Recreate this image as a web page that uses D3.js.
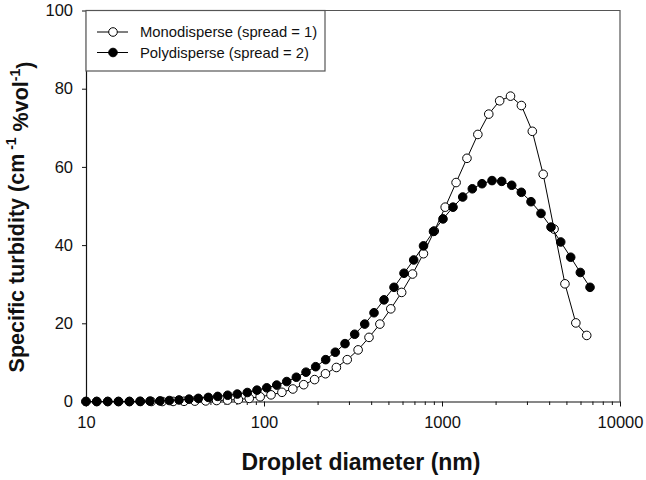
<!DOCTYPE html>
<html>
<head>
<meta charset="utf-8">
<script src="https://cdn.jsdelivr.net/npm/d3@7"></script>
<style>
  html, body { margin: 0; padding: 0; background: #fff; }
  svg { display: block; font-family: "Liberation Sans", Arial, sans-serif; }
</style>
</head>
<body>
<svg id="chart" width="646" height="480"></svg>
<script>
// ---- data ----
const polyDiameter = [10, 11.48, 13.24, 15.19, 17.51, 20.11, 22.88, 26.04, 29.38, 33.31,
  37.91, 42.75, 48.66, 54.95, 62.54, 70.8, 80.6, 91.3, 103.6, 117.9,
  134.2, 151.9, 172.2, 195.2, 222.2, 251.5, 285.2, 323.2, 367.9, 415.0,
  472.3, 537.5, 611.7, 693.4, 787.3, 896.0, 1013, 1153, 1307, 1480,
  1678, 1910, 2165, 2464, 2790, 3162, 3599, 4096, 4645, 5285,
  5984, 6785];
const polyTurbidity = [0, 0, 0, 0, 0, 0.05, 0.1, 0.15, 0.25, 0.4,
  0.6, 0.8, 1.05, 1.3, 1.6, 1.9, 2.3, 2.9, 3.5, 4.2,
  5.1, 6.2, 7.5, 8.9, 10.7, 12.6, 14.8, 17.2, 19.8, 22.7,
  26.0, 29.2, 32.8, 36.2, 39.8, 43.5, 46.7, 49.7, 52.3, 54.4,
  55.7, 56.5, 56.3, 55.3, 53.5, 51.1, 48.1, 44.6, 40.8, 36.9,
  33.0, 29.2];
const monoDiameter = [10, 11.51, 13.26, 15.26, 17.56, 20.22, 23.27, 26.80, 30.85, 35.51,
  40.88, 47.06, 54.18, 62.37, 71.80, 82.65, 95.15, 109.5, 126.1, 145.2,
  167.1, 192.4, 221.5, 255.0, 293.5, 337.9, 389.0, 447.8, 515.5, 593.4,
  683.2, 786.5, 905.4, 1042, 1200, 1381, 1590, 1831, 2108, 2426,
  2793, 3216, 3702, 4262, 4906, 5648, 6502];
const monoTurbidity = [0, 0, 0, 0, 0, 0, 0, 0, 0.02, 0.05,
  0.1, 0.15, 0.25, 0.35, 0.5, 0.8, 1.2, 1.7, 2.35, 3.2,
  4.3, 5.6, 7.1, 8.7, 10.7, 13.2, 16.4, 19.8, 23.7, 27.9,
  32.6, 37.8, 43.6, 49.7, 56.0, 62.2, 68.3, 73.5, 76.9, 78.1,
  75.7, 69.1, 58.1, 44.1, 30.1, 20.1, 16.9];
const yTicks = [0, 20, 40, 60, 80, 100];
const xMajorTicks = [10, 100, 1000, 10000];
const xMinorTicks = [20,30,40,50,60,70,80,90,200,300,400,500,600,700,800,900,2000,3000,4000,5000,6000,7000,8000,9000];
const seriesNames = ["Monodisperse (spread = 1)", "Polydisperse (spread = 2)"];

// ---- layout ----
const svg = d3.select("#chart");
const L = 86, R = 620, T = 10.5, B = 401.5;
const x = d3.scaleLog().domain([10, 10000]).range([L, R]);
const y = d3.scaleLinear().domain([0, 100]).range([B, T]);

// frame (top + right)
svg.append("path")
  .attr("d", `M${L},${T}H${R}V${B}`)
  .attr("fill", "none").attr("stroke", "#555").attr("stroke-width", 1.2);

// y axis
const gy = svg.append("g").attr("transform", `translate(${L},0)`)
  .call(d3.axisLeft(y).tickValues(yTicks).tickSize(4).tickPadding(9).tickSizeOuter(0));
gy.select(".domain").attr("stroke", "#111").attr("stroke-width", 1.2);
gy.selectAll(".tick line").attr("stroke", "#111");
gy.selectAll("text").attr("font-size", "16.5px").attr("fill", "#111")
  .attr("font-family", "Liberation Sans, Arial, sans-serif");

// x axis minor
svg.append("g").attr("transform", `translate(0,${B})`)
  .call(d3.axisBottom(x).tickValues(xMinorTicks).tickSize(3.5).tickFormat(""))
  .call(g => g.select(".domain").remove())
  .selectAll(".tick line").attr("stroke", "#111");

// x axis major
const gx = svg.append("g").attr("transform", `translate(0,${B})`)
  .call(d3.axisBottom(x).tickValues(xMajorTicks).tickSize(5).tickPadding(10).tickSizeOuter(0)
    .tickFormat(d3.format("d")));
gx.select(".domain").attr("stroke", "#111").attr("stroke-width", 1.2);
gx.selectAll(".tick line").attr("stroke", "#111");
gx.selectAll("text").attr("font-size", "16.5px").attr("fill", "#111")
  .attr("font-family", "Liberation Sans, Arial, sans-serif");

// axis titles
svg.append("text")
  .attr("x", 361).attr("y", 470)
  .attr("text-anchor", "middle")
  .attr("font-size", "23px").attr("font-weight", "bold").attr("fill", "#111")
  .text("Droplet diameter (nm)");

const yt = svg.append("text")
  .attr("transform", `translate(24,${(T + B) / 2 + 11}) rotate(-90)`)
  .attr("text-anchor", "middle")
  .attr("font-size", "21.5px").attr("font-weight", "bold").attr("fill", "#111");
yt.append("tspan").text("Specific turbidity (cm");
yt.append("tspan").attr("dy", "-0.55em").attr("font-size", "14px").text(" -1");
yt.append("tspan").attr("dy", "0.55em").text(" %vol");
yt.append("tspan").attr("dy", "-0.55em").attr("font-size", "14px").text("-1");
yt.append("tspan").attr("dy", "0.55em").text(")");

// series
const mono = monoDiameter.map((d, i) => [d, monoTurbidity[i]]);
const poly = polyDiameter.map((d, i) => [d, polyTurbidity[i]]);
const line = d3.line().x(d => x(d[0])).y(d => y(d[1]));
const r = 4.3;

function drawSeries(data, fill) {
  svg.append("path").datum(data).attr("d", line)
    .attr("fill", "none").attr("stroke", "#000").attr("stroke-width", 1);
  svg.append("g").selectAll("circle").data(data).join("circle")
    .attr("cx", d => x(d[0])).attr("cy", d => y(d[1])).attr("r", r)
    .attr("fill", fill).attr("stroke", "#000").attr("stroke-width", 1);
}
drawSeries(mono, "#fff");
drawSeries(poly, "#000");

// legend
const lg = svg.append("g");
lg.append("rect").attr("x", L).attr("y", T).attr("width", 239).attr("height", 60.5)
  .attr("fill", "#fff").attr("stroke", "#555").attr("stroke-width", 1.2);
const fills = ["#fff", "#000"];
seriesNames.forEach((name, i) => {
  const cy = 32 + i * 20.5;
  lg.append("line").attr("x1", 97).attr("x2", 128).attr("y1", cy).attr("y2", cy)
    .attr("stroke", "#000").attr("stroke-width", 1);
  lg.append("circle").attr("cx", 113).attr("cy", cy).attr("r", r)
    .attr("fill", fills[i]).attr("stroke", "#000");
  lg.append("text").attr("x", 140).attr("y", cy + 5.3)
    .attr("font-size", "14.8px").attr("fill", "#111").text(name);
});
</script>
</body>
</html>
